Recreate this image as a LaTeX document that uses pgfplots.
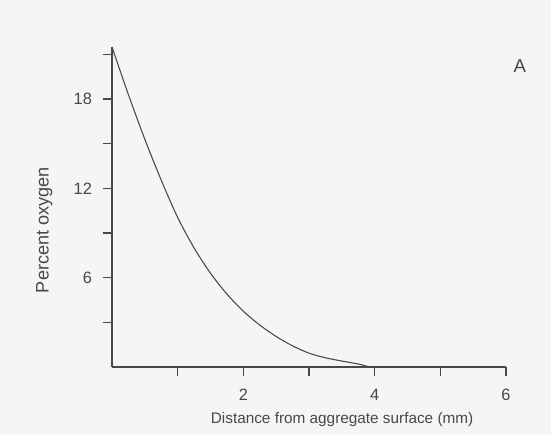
\documentclass[border=0pt]{standalone}
\usepackage{fontspec}
\setmainfont{Liberation Sans}
\usepackage{pgfplots}
\pgfplotsset{compat=1.18}
\definecolor{paper}{RGB}{245,245,243}
\definecolor{ink}{RGB}{72,72,72}

\begin{document}
\begin{tikzpicture}
% page box, 1px of the reference = 0.75pt
\path[use as bounding box, fill=paper] (-84pt,-51pt) rectangle (329.25pt,275.25pt);
\begin{axis}[
    scale only axis,
    width=295.5pt, height=240pt,
    xmin=0, xmax=6, ymin=0, ymax=21.5,
    axis x line*=bottom, axis y line*=left,
    axis line style={ink, line width=0.9pt, -},
    xtick={1,2,3,4,5,6}, xticklabels={,2,,4,,6},
    ytick={3,6,9,12,15,18,21}, yticklabels={,6,,12,,18,},
    tick align=outside,
    major tick length=7pt,
    tick style={ink, line width=0.9pt},
    ticklabel style={font=\fontsize{12.3}{14}\selectfont, text=ink},
    xticklabel style={yshift=-6pt},
    yticklabel style={xshift=-4.5pt},
    /pgf/number format/assume math mode=true,
    xlabel={Distance from aggregate surface (mm)},
    ylabel={Percent oxygen},
    label style={text=ink},
    xlabel style={font=\fontsize{11.5}{13}\selectfont, at={(axis description cs:0.584,-0.165)}, anchor=center},
    ylabel style={font=\fontsize{13.6}{15}\selectfont, at={(axis description cs:-0.172,0.428)}, anchor=center},
    clip=false,
]
\addplot[ink, line width=0.8pt, smooth, tension=0.5] coordinates {
    (0,21.5) (0.25,18.3) (0.5,15.3) (0.75,12.55) (1.0,10.05) (1.25,8.0)
    (1.5,6.3) (1.75,4.9) (2.0,3.75) (2.25,2.82) (2.5,2.05) (2.75,1.42)
    (3.0,0.93) (3.25,0.62) (3.5,0.40) (3.75,0.2) (3.9,0.03)
};
\node[font=\fontsize{14}{16}\selectfont, text=ink] at (axis cs:6.21,20.2) {A};
\end{axis}
\end{tikzpicture}
\end{document}
